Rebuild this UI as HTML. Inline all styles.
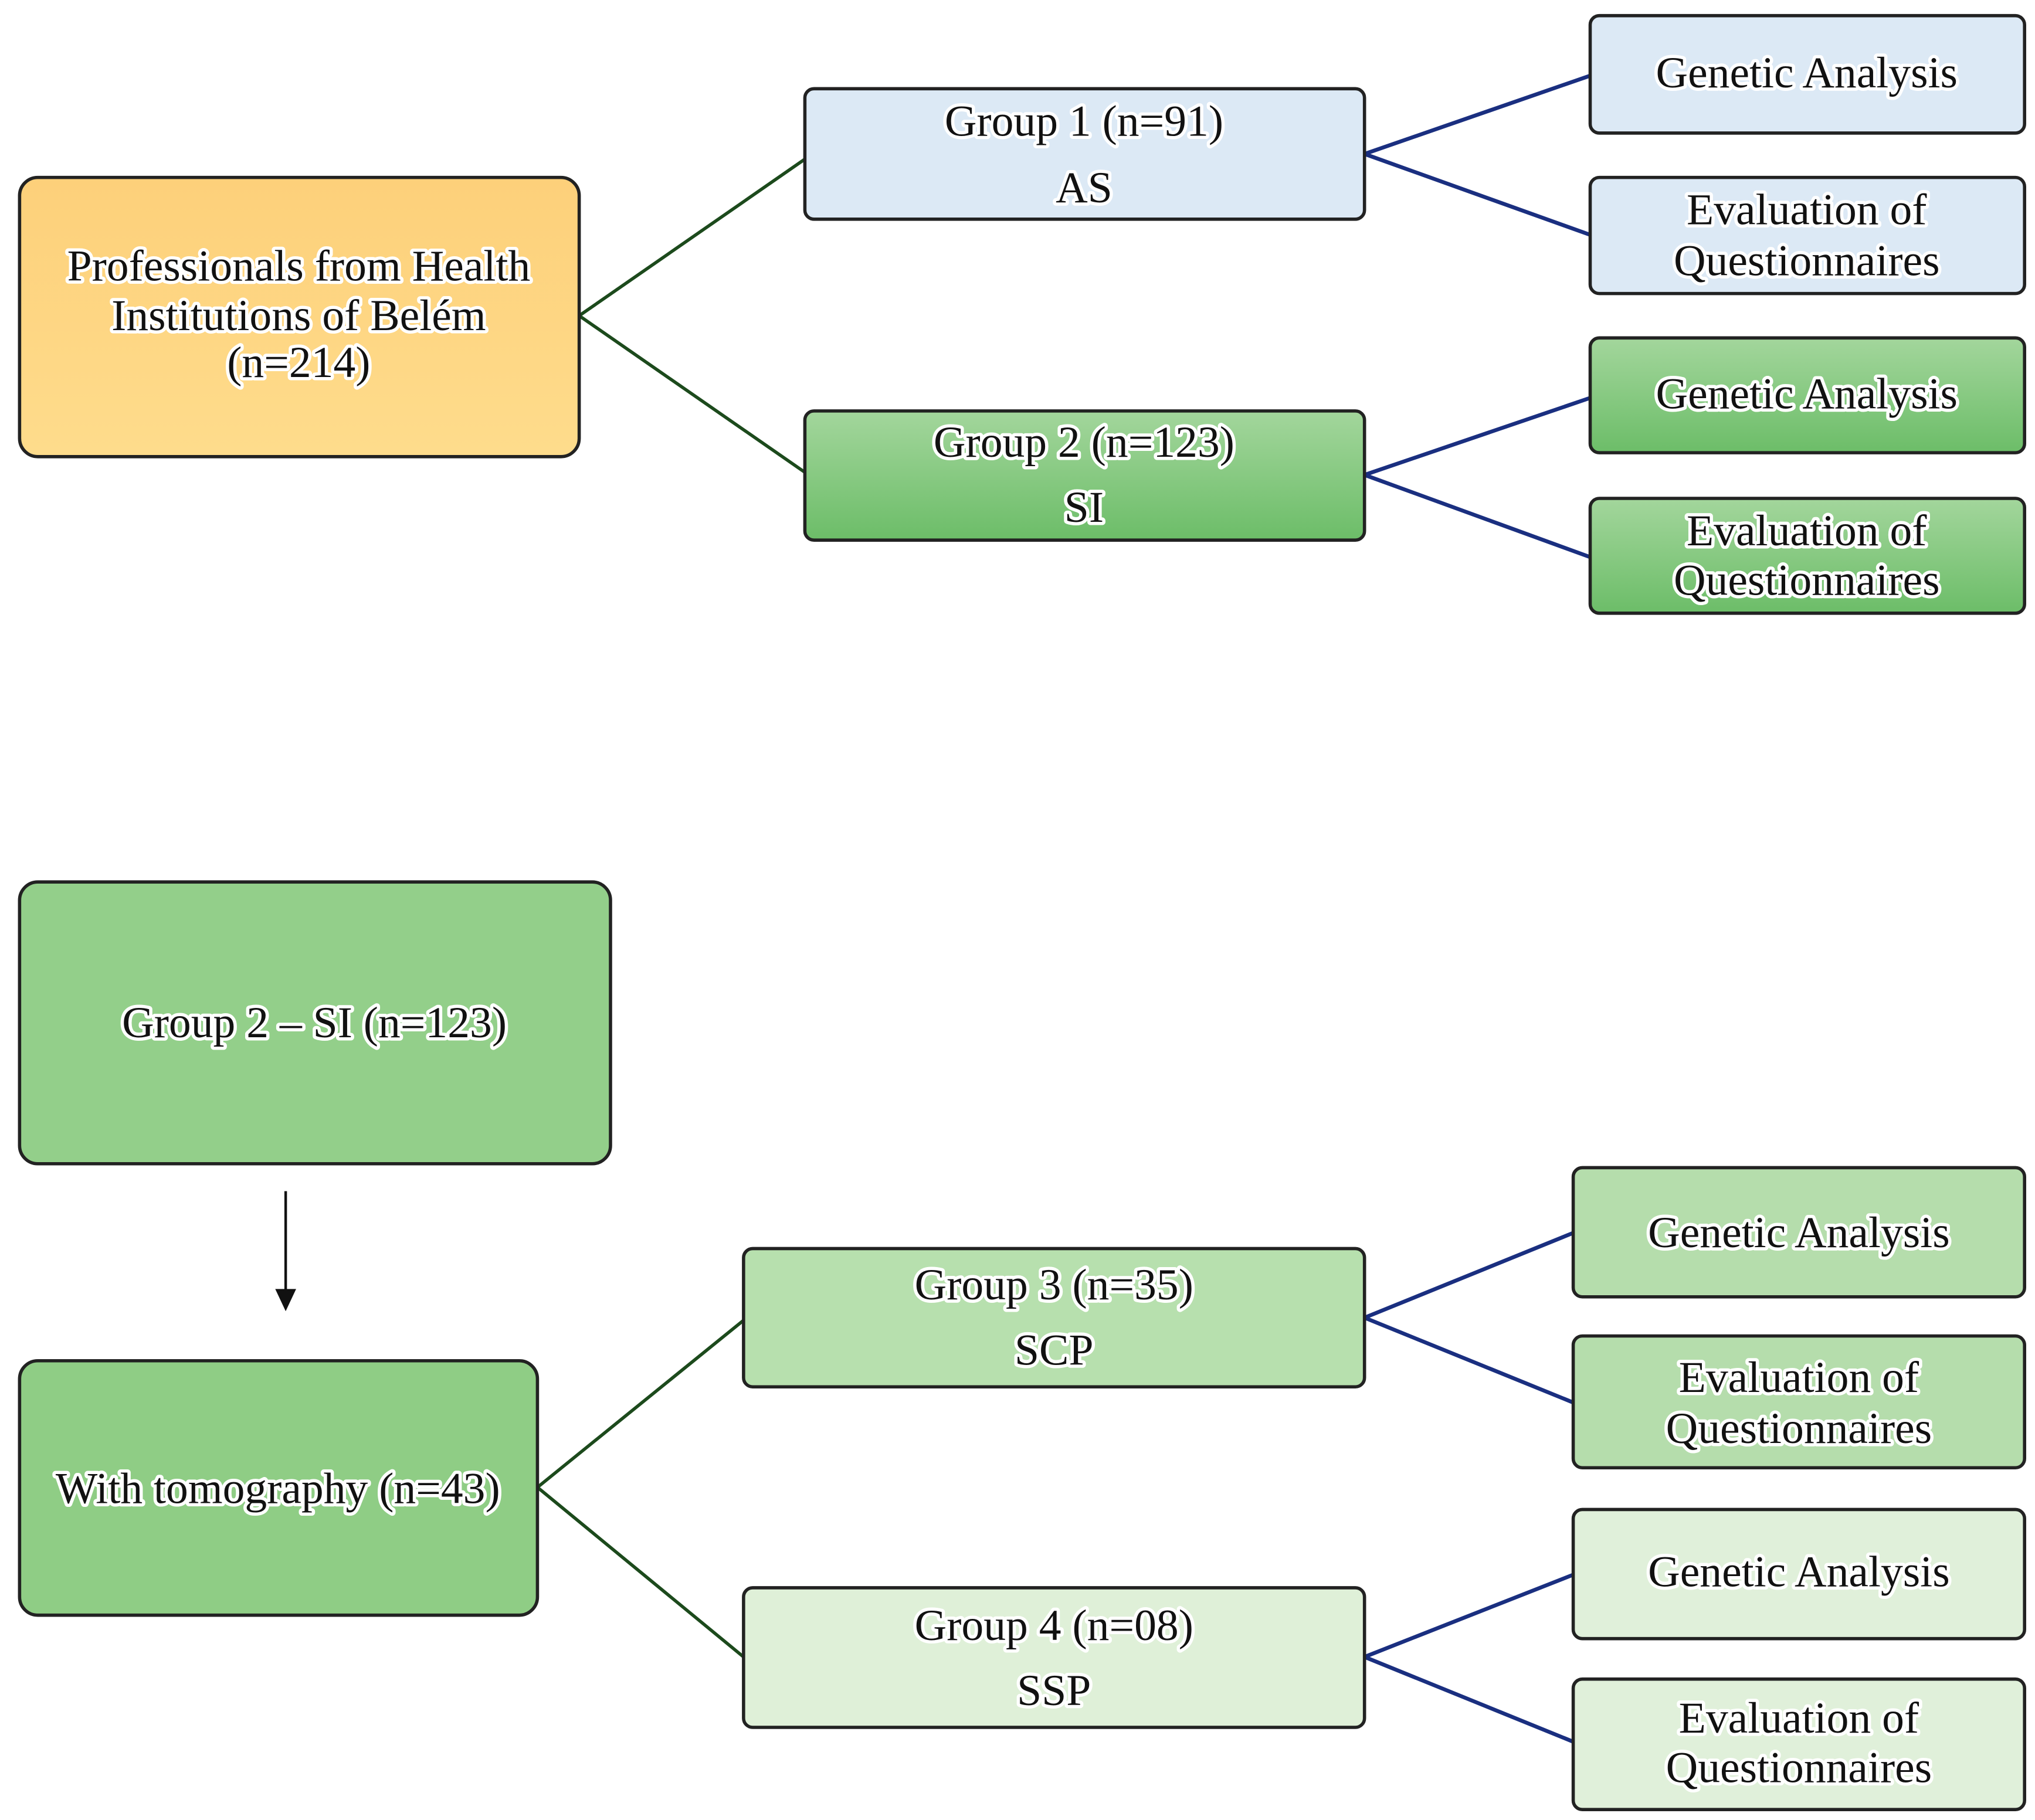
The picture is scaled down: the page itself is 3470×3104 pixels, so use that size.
<!DOCTYPE html>
<html><head><meta charset="utf-8"><style>
html,body{margin:0;padding:0;background:#fff;}
svg{display:block;}
text{font-family:"Liberation Serif",serif;font-size:34px;fill:#111;text-anchor:middle;stroke:#fff;stroke-width:5px;paint-order:stroke;stroke-linejoin:round;}
</style></head><body>
<svg width="3470" height="3104" viewBox="0 0 1560 1395" preserveAspectRatio="none" xmlns="http://www.w3.org/2000/svg">
<defs>
<linearGradient id="g2" x1="0" y1="0" x2="0" y2="1"><stop offset="0" stop-color="#a3d69c"/><stop offset="1" stop-color="#6cbd68"/></linearGradient>
<linearGradient id="or" x1="0" y1="0" x2="0" y2="1"><stop offset="0" stop-color="#fdd07a"/><stop offset="1" stop-color="#fedc8c"/></linearGradient>
</defs>
<g stroke="#1c4a1c" stroke-width="2.5" fill="none">
<line x1="444" y1="242" x2="617" y2="122"/><line x1="444" y1="242" x2="617" y2="362"/>
<line x1="412" y1="1140" x2="570" y2="1012"/><line x1="412" y1="1140" x2="570" y2="1270"/>
</g>
<g stroke="#1a2f80" stroke-width="3" fill="none">
<line x1="1046" y1="118" x2="1219" y2="58"/><line x1="1046" y1="118" x2="1219" y2="180"/>
<line x1="1046" y1="364" x2="1219" y2="305"/><line x1="1046" y1="364" x2="1219" y2="427"/>
<line x1="1046" y1="1010" x2="1206" y2="945"/><line x1="1046" y1="1010" x2="1206" y2="1075"/>
<line x1="1046" y1="1270" x2="1206" y2="1207"/><line x1="1046" y1="1270" x2="1206" y2="1335"/>
</g>
<g stroke="#222" stroke-width="2.5">
<rect x="15" y="136" width="429" height="214" rx="14" fill="url(#or)"/>
<rect x="617" y="68" width="429" height="100" rx="7" fill="#dce9f5"/>
<rect x="617" y="315" width="429" height="99" rx="7" fill="url(#g2)"/>
<rect x="1219" y="12" width="333" height="90" rx="7" fill="#dce9f5"/>
<rect x="1219" y="136" width="333" height="89" rx="7" fill="#dce9f5"/>
<rect x="1219" y="259" width="333" height="88" rx="7" fill="url(#g2)"/>
<rect x="1219" y="382" width="333" height="88" rx="7" fill="url(#g2)"/>
<rect x="15" y="676" width="453" height="216" rx="14" fill="#93cf8a"/>
<rect x="15" y="1043" width="397" height="195" rx="14" fill="#8fcd85"/>
<rect x="570" y="957" width="476" height="106" rx="7" fill="#b7e0ae"/>
<rect x="570" y="1217" width="476" height="107" rx="7" fill="#dff0d8"/>
<rect x="1206" y="895" width="346" height="99" rx="7" fill="#b5ddac"/>
<rect x="1206" y="1024" width="346" height="101" rx="7" fill="#b5ddac"/>
<rect x="1206" y="1157" width="346" height="99" rx="7" fill="#e0f0da"/>
<rect x="1206" y="1287" width="346" height="100" rx="7" fill="#e0f0da"/>
</g>
<line x1="219" y1="913" x2="219" y2="990" stroke="#111" stroke-width="2"/>
<polygon points="211,988 227,988 219,1005" fill="#111"/>
<text x="229" y="215">Professionals  from  Health</text>
<text x="229" y="253">Institutions  of Belém</text>
<text x="229" y="289">(n=214)</text>
<text x="831" y="104">Group  1 (n=91)</text>
<text x="831" y="155">AS</text>
<text x="831" y="350">Group  2 (n=123)</text>
<text x="831" y="400">SI</text>
<text x="1385" y="67">Genetic  Analysis</text>
<text x="1385" y="172">Evaluation  of</text>
<text x="1385" y="211">Questionnaires</text>
<text x="1385" y="313">Genetic  Analysis</text>
<text x="1385" y="418">Evaluation  of</text>
<text x="1385" y="456">Questionnaires</text>
<text x="241" y="795">Group  2 – SI (n=123)</text>
<text x="213" y="1152">With  tomography  (n=43)</text>
<text x="808" y="996">Group  3 (n=35)</text>
<text x="808" y="1046">SCP</text>
<text x="808" y="1257">Group  4 (n=08)</text>
<text x="808" y="1307">SSP</text>
<text x="1379" y="956">Genetic  Analysis</text>
<text x="1379" y="1067">Evaluation  of</text>
<text x="1379" y="1106">Questionnaires</text>
<text x="1379" y="1216">Genetic  Analysis</text>
<text x="1379" y="1328">Evaluation  of</text>
<text x="1379" y="1366">Questionnaires</text>
</svg>
</body></html>
